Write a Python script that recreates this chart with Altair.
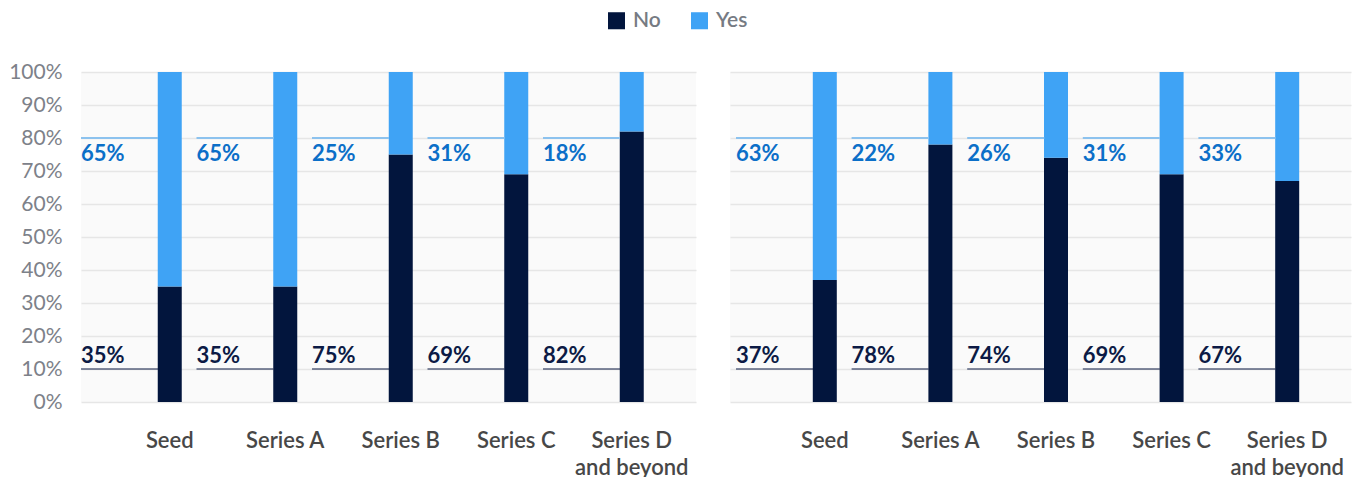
import altair as alt
import pandas as pd

# ---- data ----
stages = ["Seed", "Series A", "Series B", "Series C", "Series D and beyond"]
left_no = [35, 35, 75, 69, 82]
left_yes = [65, 65, 25, 31, 18]
right_no = [37, 78, 74, 69, 67]
right_yes = [63, 22, 26, 31, 33]
answers = ["No", "Yes"]
y_ticks = [0, 10, 20, 30, 40, 50, 60, 70, 80, 90, 100]

FONT = "Lato"
NO_COLOR = "#02153d"
YES_COLOR = "#3fa3f5"
YES_TEXT = "#0b6fc8"
YES_LINE = "#8cc2ee"
NO_TEXT = "#0c1a45"


def bar_df(no, yes):
    rows = []
    for s, n, y in zip(stages, no, yes):
        rows.append({"stage": s, "answer": "No", "value": n})
        rows.append({"stage": s, "answer": "Yes", "value": y})
    return pd.DataFrame(rows)


def label_df(no, yes):
    return pd.DataFrame({
        "stage": stages,
        "no_label": [f"{v}%" for v in no],
        "yes_label": [f"{v}%" for v in yes],
    })


def make_panel(no, yes, width, pad_outer, align, show_y):
    xscale = alt.Scale(paddingInner=0, paddingOuter=pad_outer, align=align)
    xaxis = alt.Axis(
        title=None, labelAngle=0, labelOffset=31, labelFont=FONT,
        labelFontSize=22, labelFontWeight=600, labelColor="#474747",
        domain=False, ticks=False, labelPadding=28, labelLineHeight=27,
        labelExpr="datum.label == 'Series D and beyond' ? ['Series D', 'and beyond'] : datum.label",
    )
    if show_y:
        yaxis = alt.Axis(
            title=None, values=y_ticks, labelExpr="datum.value + '%'",
            labelFont=FONT, labelFontSize=21, labelColor="#7d8189",
            domain=False, ticks=False, labelPadding=19, labelOverlap=False,
            labelBound=False, labelFlush=False,
            gridColor="#e6e6e6", gridWidth=1.5,
        )
    else:
        yaxis = alt.Axis(
            title=None, values=y_ticks, labels=False,
            domain=False, ticks=False, gridColor="#e6e6e6", gridWidth=1.5,
        )
    yscale = alt.Scale(domain=[0, 100])

    def X(band=0.5):
        return alt.X("stage:N", sort=stages, scale=xscale, axis=xaxis, bandPosition=band)

    def Yd(v):
        return alt.Y(datum=v, type="quantitative", scale=yscale, axis=yaxis)

    bdf = bar_df(no, yes)
    ldf = label_df(no, yes)

    bars = alt.Chart(bdf).mark_bar(size=24, xOffset=31).encode(
        x=X(),
        y=alt.Y("value:Q", stack="zero", scale=yscale, axis=yaxis),
        color=alt.Color(
            "answer:N",
            scale=alt.Scale(domain=answers, range=[NO_COLOR, YES_COLOR]),
            legend=alt.Legend(
                title=None, orient="none", direction="horizontal",
                legendX=525, legendY=-62,
                symbolType="square", symbolSize=290, symbolStrokeWidth=0,
                labelFont=FONT, labelFontSize=21, labelColor="#767b83",
                labelFontWeight=600, columnPadding=28, labelOffset=6,
            ),
        ),
        order=alt.Order("answer:N", sort="ascending"),
    )

    yes_rule = alt.Chart(ldf).mark_rule(color=YES_LINE, strokeWidth=2).encode(
        x=X(0), x2=alt.X2("stage:N", bandPosition=2 / 3), y=Yd(80)
    )
    no_rule = alt.Chart(ldf).mark_rule(color=NO_TEXT, strokeWidth=1.2).encode(
        x=X(0), x2=alt.X2("stage:N", bandPosition=2 / 3), y=Yd(10)
    )
    yes_text = alt.Chart(ldf).mark_text(
        align="left", baseline="top", dy=6, font=FONT, fontSize=22,
        fontWeight="bold", color=YES_TEXT,
    ).encode(x=X(0), y=Yd(80), text="yes_label:N")
    no_text = alt.Chart(ldf).mark_text(
        align="left", baseline="bottom", dy=-1, font=FONT, fontSize=22,
        fontWeight="bold", color=NO_TEXT,
    ).encode(x=X(0), y=Yd(10), text="no_label:N")

    return alt.layer(bars, yes_rule, no_rule, yes_text, no_text).properties(
        width=width, height=330
    )


left = make_panel(left_no, left_yes, 615, (615 / 115.5 - 5) / 2, 0, True)
right = make_panel(right_no, right_yes, 621, (621 / 115.6 - 5) / 2, 6 / 43, False)

chart = alt.hconcat(left, right, spacing=34).properties(
    padding={"left": 8, "top": 10, "right": 9, "bottom": 0}
).configure_view(fill="#fafafa", stroke=None).configure_axisY(labelOverlap=False)

chart.save("out.html", embed_options={"renderer": "svg", "actions": False})
